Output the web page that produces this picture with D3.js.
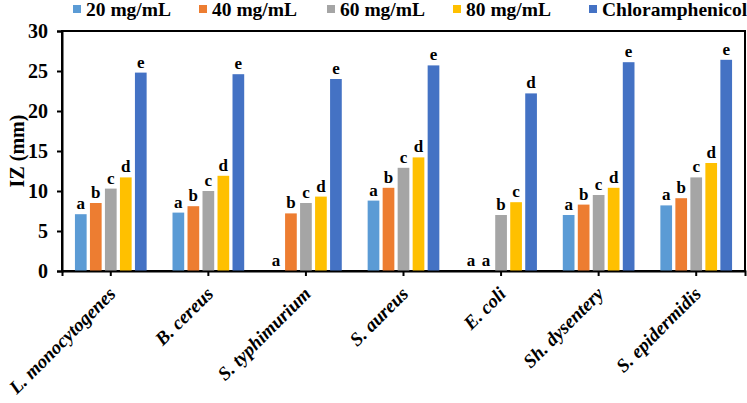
<!DOCTYPE html>
<html><head><meta charset="utf-8">
<script src="https://cdn.jsdelivr.net/npm/d3@7"></script>
<style>body{margin:0;background:#fff}</style>
</head><body>
<svg id="c" width="747" height="403"></svg>
<script>
const categories = ["L. monocytogenes","B. cereus","S. typhimurium","S. aureus","E. coli","Sh. dysentery","S. epidermidis"];
const seriesNames = ["20 mg/mL","40 mg/mL","60 mg/mL","80 mg/mL","Chloramphenicol"];
const s20  = [7.1, 7.3, 0,   8.8, 0,   7.0, 8.2];
const s40  = [8.5, 8.1, 7.2, 10.4, 0,  8.3, 9.1];
const s60  = [10.3, 10.0, 8.5, 12.9, 7.0, 9.5, 11.7];
const s80  = [11.7, 11.9, 9.3, 14.2, 8.6, 10.4, 13.5];
const sChl = [24.8, 24.6, 24.0, 25.7, 22.2, 26.1, 26.4];
const letters20  = ["a","a","a","a","a","a","a"];
const letters40  = ["b","b","b","b","a","b","b"];
const letters60  = ["c","c","c","c","b","c","c"];
const letters80  = ["d","d","d","d","c","d","d"];
const lettersChl = ["e","e","e","e","d","e","e"];
const yTicks = [0,5,10,15,20,25,30];
const colors = ["#5B9BD5","#ED7D31","#A5A5A5","#FFC000","#4472C4"];

const series = [s20,s40,s60,s80,sChl];
const letters = [letters20,letters40,letters60,letters80,lettersChl];

const svg = d3.select("#c");
const L = 62, R = 745, T = 31, B = 271;
const font = "'Liberation Serif','Times New Roman',serif";

const x = d3.scaleBand().domain(categories).range([L, R]).padding(0);
const y = d3.scaleLinear().domain([0,30]).range([B, T]);
const step = 15, bw = 11.7;
const xs = d3.scaleLinear().domain([0,4]).range([-2*step, 2*step]);

// frame
svg.append("rect").attr("x",L).attr("y",T).attr("width",R-L).attr("height",B-T)
  .attr("fill","none").attr("stroke","#000").attr("stroke-width",2);

// bars
series.forEach((vals, si) => {
  svg.append("g").selectAll("rect").data(vals).join("rect")
    .attr("x",(d,i)=>x(categories[i]) + x.bandwidth()/2 + xs(si) - bw/2)
    .attr("y",d=>y(d)).attr("width",bw).attr("height",d=>B-y(d))
    .attr("fill",colors[si]);
  svg.append("g").selectAll("text").data(vals).join("text")
    .attr("x",(d,i)=>x(categories[i]) + x.bandwidth()/2 + xs(si))
    .attr("y",d=>y(d)-5)
    .attr("text-anchor","middle")
    .attr("font-family",font).attr("font-weight","bold").attr("font-size",17)
    .text((d,i)=>letters[si][i]);
});

// y axis
const ya = d3.axisLeft(y).tickValues(yTicks).tickSize(5).tickPadding(9);
const gy = svg.append("g").attr("transform",`translate(${L},0)`).call(ya);
gy.select(".domain").attr("stroke-width",2);
gy.selectAll(".tick line").attr("stroke-width",2);
gy.selectAll("text").attr("font-family",font).attr("font-weight","bold").attr("font-size",20).attr("fill","#000");

// x axis
const xa = d3.axisBottom(x).tickSize(5).tickFormat("");
const gx = svg.append("g").attr("transform",`translate(0,${B})`).call(xa);
gx.select(".domain").attr("stroke-width",2);
gx.selectAll(".tick line").attr("stroke-width",2);

// category labels
svg.append("g").selectAll("text").data(categories).join("text")
  .attr("transform",d=>`translate(${x(d)+x.bandwidth()/2+6},${B+24}) rotate(-45)`)
  .attr("text-anchor","end")
  .attr("font-family",font).attr("font-weight","bold").attr("font-style","italic").attr("font-size",19)
  .text(d=>d);

// y label
svg.append("text").attr("transform",`translate(24,${(T+B)/2}) rotate(-90)`)
  .attr("text-anchor","middle").attr("font-family",font).attr("font-weight","bold").attr("font-size",20)
  .text("IZ (mm)");

// legend
const legX = [73,199,327,453,589];
seriesNames.forEach((n,i)=>{
  svg.append("rect").attr("x",legX[i]).attr("y",5).attr("width",8).attr("height",8).attr("fill",colors[i]);
  svg.append("text").attr("x",legX[i]+13).attr("y",16)
    .attr("font-family",font).attr("font-weight","bold").attr("font-size",19.5).text(n);
});
</script>
</body></html>
